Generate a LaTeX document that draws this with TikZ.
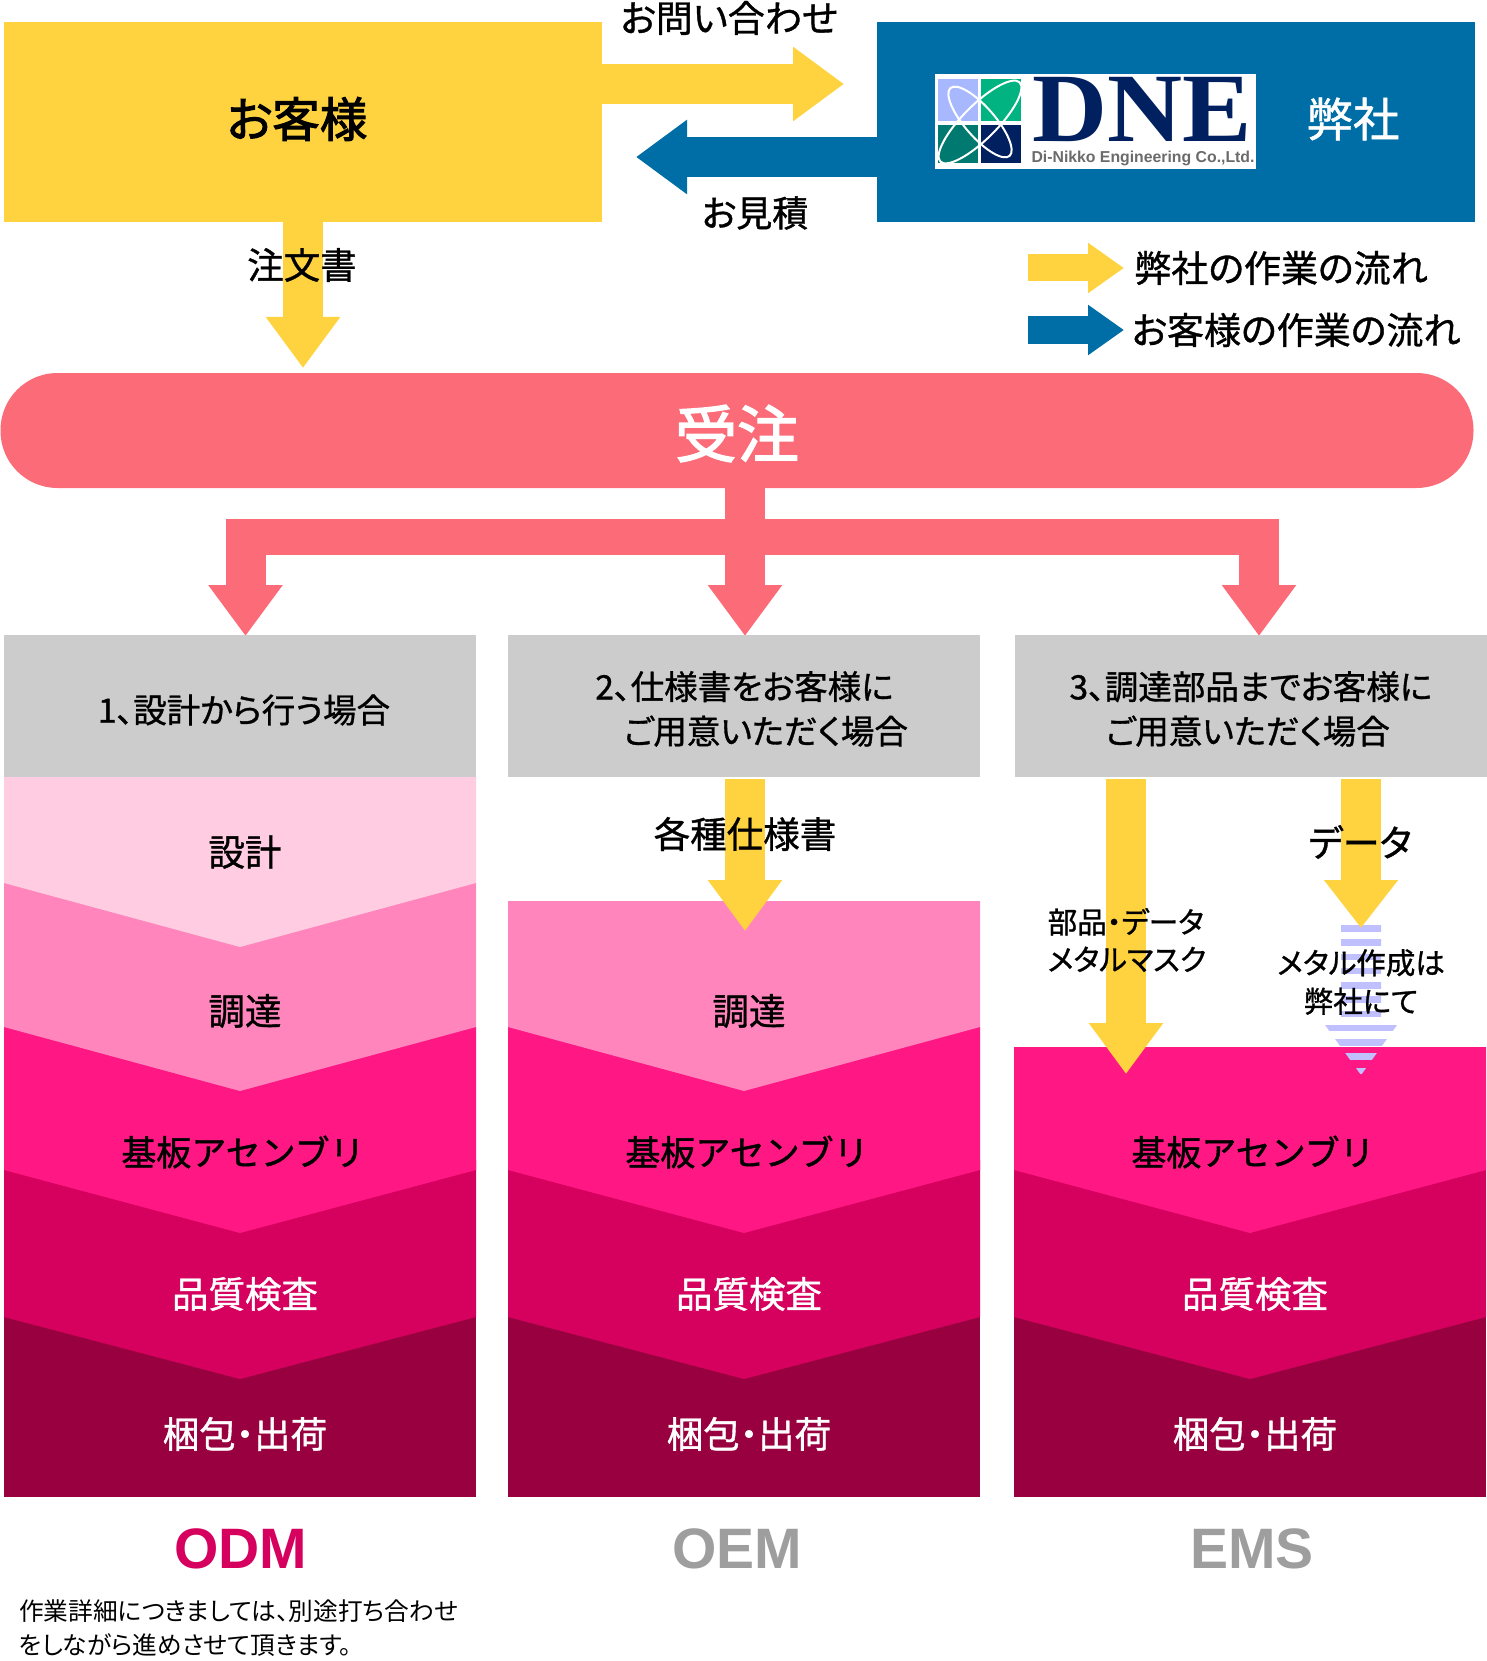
\documentclass[tikz,border=0pt]{standalone}
\usepackage{fontspec}
\usepackage{tikz}
\usetikzlibrary{arrows.meta,positioning}
\setmainfont{Noto Sans CJK JP}[RawFeature={+palt}]
\newfontfamily\medfont{Noto Sans CJK JP}[FakeBold=1,RawFeature={+palt}]
\newfontfamily\heavyfont{Noto Sans CJK JP}[FakeBold=2.2,RawFeature={+palt}]
\newfontfamily\widefont{Noto Sans CJK JP}[FakeBold=1.2]
\newfontfamily\latinfont{Liberation Sans}
\newfontfamily\logofont{Liberation Serif}
\definecolor{flowyellow}{HTML}{FFD33F}
\definecolor{flowblue}{HTML}{006EA6}
\definecolor{orderpink}{HTML}{FC6B78}
\definecolor{headgray}{HTML}{CCCCCC}
\definecolor{stepdesign}{HTML}{FFCCE1}
\definecolor{stepbuy}{HTML}{FF85BC}
\definecolor{stepasm}{HTML}{FF1784}
\definecolor{stepcheck}{HTML}{D6005F}
\definecolor{stepship}{HTML}{99003F}
\definecolor{stripe}{HTML}{C0C0FF}
\definecolor{logonavy}{HTML}{002060}
\definecolor{logolav}{HTML}{A8B8FF}
\definecolor{logogreen}{HTML}{00B380}
\definecolor{logoteal}{HTML}{007A70}
\begin{document}
\begin{tikzpicture}[
  x=1pt, y=-1pt,
  node distance=32pt,
  txt/.style={inner sep=0pt, align=center, font=\medfont\fontsize{#1}{#1}\selectfont},
  txtw/.style={txt=#1, text=white},
  txtb/.style={inner sep=0pt, align=center, font=\heavyfont\fontsize{#1}{#1}\selectfont},
  panel/.style={inner sep=0pt, minimum width=598pt, minimum height=200pt},
  headbox/.style={fill=headgray, inner sep=0pt, minimum width=472pt, minimum height=142pt, txt=33.5},
  ymove/.style={line width=40pt, draw=flowyellow, -{Triangle[length=51pt,width=71pt]}},
  bmove/.style={line width=40pt, draw=flowblue, -{Triangle[length=51pt,width=71pt]}},
  ykey/.style={line width=27pt, draw=flowyellow, -{Triangle[length=36pt,width=48pt]}},
  bkey/.style={line width=27pt, draw=flowblue, -{Triangle[length=36pt,width=48pt]}},
  pmove/.style={line width=40pt, draw=orderpink, -{Triangle[length=51pt,width=71pt]}},
  modeltxt/.style={inner sep=0pt, font=\latinfont\bfseries\fontsize{57}{57}\selectfont}
]
\useasboundingbox (0,0) rectangle (1486,1661);
\fill[white] (0,0) rectangle (1486,1661);
% top row
\node[panel, fill=flowyellow] (customer) at (303,122) {};
\node[panel, fill=flowblue, right=275pt of customer] (company) {};
\node[fill=white, inner sep=0pt, minimum width=321pt, minimum height=95pt] (logo) at (1095,121.5) {};
\fill[logolav] (938,79) rectangle (978,121);
\fill[logogreen] (981,79) rectangle (1021,121);
\fill[logoteal] (938,125) rectangle (978,163);
\fill[logonavy] (981,125) rectangle (1021,163);
\draw[white, line width=2pt] (980,122) ellipse[x radius=45, y radius=15, rotate=-49];
\draw[white, line width=2pt] (980,122) ellipse[x radius=56, y radius=17, rotate=45];
\node[anchor=base, inner sep=0pt, text height=64pt, text depth=0pt, text=logonavy, font=\logofont\bfseries\fontsize{98}{98}\selectfont] (logoname) at (1142,142) {\scalebox{1.06}[1]{DNE}};
\node[inner sep=0pt, text=black!58, font=\latinfont\bfseries\fontsize{15.8}{15.8}\selectfont] (logosub) at (1143,158) {Di-Nikko Engineering Co.,Ltd.};
\node[txtw=46.5] (companytxt) at (1353,119) {弊社};
\node[txtb=47.5] (customertxt) at (297,119) {お客様};
\coordinate (inquirytip) at (844,84);
\coordinate (estimatetip) at (636,157);
\coordinate (ordertip) at (303,368);
\draw[ymove] (customer.east |- inquirytip) -- (inquirytip);
\draw[bmove] (company.west |- estimatetip) -- (estimatetip);
\draw[ymove] (customer) -- (ordertip);
\node[txt=37] (inquiry) at (729,18) {お問い合わせ};
\node[txt=36] (estimate) at (755,213) {お見積};
\node[txt=36.5] (orderdoc) at (302,265) {注文書};
% legend
\coordinate (ykeys) at (1028,268);
\coordinate (ykeye) at (1124,268);
\coordinate (bkeys) at (1028,330);
\coordinate (bkeye) at (1124,330);
\draw[ykey] (ykeys) -- (ykeye);
\draw[bkey] (bkeys) -- (bkeye);
\node[txt=37] (ykeytxt) at (1281,268) {弊社の作業の流れ};
\node[txt=37] (bkeytxt) at (1296,330) {お客様の作業の流れ};
% order and branches
\node[fill=orderpink, rounded corners=57pt, inner sep=0pt, minimum width=1473pt, minimum height=115pt, text=white, txtb=62] (order) at (737,430.5) {\raisebox{-3pt}[\height][\depth]{受注}};
\coordinate (busl) at (226,537);
\coordinate (busr) at (1279,537);
\coordinate (busm) at (745,537);
\coordinate (drop1) at (245.5,519);
\coordinate (drop3) at (1259,519);
\coordinate (tip1) at (245.5,636);
\coordinate (tip2) at (745,636);
\coordinate (tip3) at (1259,636);
\draw[line width=36pt, draw=orderpink] (busl) -- (busr);
\draw[pmove] (order.south -| busm) -- (tip2);
\draw[pmove] (drop1) -- (tip1);
\draw[pmove] (drop3) -- (tip3);
% heads
\node[headbox] (head1) at (240,706) {\hspace*{8pt}\raisebox{-4pt}[\height][\depth]{1、設計から行う場合}};
\node[headbox, right=of head1] (head2) {\rule{0pt}{34pt}2、仕様書をお客様に\\[11pt]\hspace*{43pt}ご用意いただく場合};
\node[headbox, right=34pt of head2] (head3) {\rule{0pt}{34pt}3、調達部品までお客様に\\[11pt]ご用意いただく場合\hspace*{6pt}};
% process layers
\foreach \x in {4,508,1014} {
  \fill[stepship] (\x,1300) rectangle ++(472,197);
  \fill[stepcheck] (\x,1160) -- ++(472,0) -- ++(0,157) -- ++(-236,62) -- ++(-236,-62) -- cycle;
}
\foreach \x/\y in {4/1027,508/1027,1014/1047} {
  \fill[stepasm] (\x,\y) -- ++(472,0) -- (\x+472,1170) -- (\x+236,1233) -- (\x,1170) -- cycle;
}
\foreach \x/\y in {4/883,508/901} {
  \fill[stepbuy] (\x,\y) -- ++(472,0) -- (\x+472,1027) -- (\x+236,1091) -- (\x,1027) -- cycle;
}
\fill[stepdesign] (4,777) -- (476,777) -- (476,883) -- (240,947) -- (4,883) -- cycle;
% supplied items
\coordinate (spec) at (745,779);
\coordinate (spectip) at (745,931);
\coordinate (parts) at (1126,779);
\coordinate (partstip) at (1126,1074);
\coordinate (data) at (1361,779);
\coordinate (datatip) at (1361,928);
\begin{scope}
  \clip (1341,925) -- (1381,925) -- (1381,1025) -- (1397,1025) -- (1361,1075) -- (1325,1025) -- (1341,1025) -- cycle;
  \foreach \y in {0,...,10} {
    \fill[stripe] (1320,925+14.25*\y) rectangle ++(82,6.5);
  }
\end{scope}
\draw[ymove] (spec) -- (spectip);
\draw[ymove] (parts) -- (partstip);
\draw[ymove, -{Triangle[length=48pt,width=71pt]}] (data) -- (datatip);
\node[txt=36.5] (spectxt) at (745,834) {各種仕様書};
\node[txt=37] (datatxt) at (1360,842) {データ};
\node[txt=29.5, align=left] (partstxt) at (1127,940) {部品・データ\\[8pt]メタルマスク};
\node[txt=29.5] (maketxt) at (1361,982) {メタル作成は\\[9pt]弊社にて};
% layer labels
\node[txt=36.5] (design) at (245,852) {設計};
\foreach \c/\dx in {1/0,2/504} {
  \node[txt=36.5] (buy\c) at (245+\dx,1011) {調達};
}
\foreach \c/\dx in {1/0,2/504,3/1010} {
  \node[inner sep=0pt, font=\widefont\fontsize{35}{35}\selectfont] (asm\c) at (243+\dx,1152) {基板アセンブリ};
  \node[txtw=36.5] (check\c) at (245+\dx,1294) {品質検査};
  \node[txtw=36.5] (ship\c) at (245+\dx,1434) {梱包・出荷};
}
% model names
\node[modeltxt, text=stepcheck] (odm) at (240.5,1549) {ODM};
\node[modeltxt, text=black!38] (oem) at (737,1549) {OEM};
\node[modeltxt, text=black!38] (ems) at (1252,1549) {EMS};
\node[inner sep=0pt, align=left, anchor=west, font=\fontsize{24.7}{24.7}\selectfont] (note) at (19,1628) {作業詳細につきましては、別途打ち合わせ\\[9pt]をしながら進めさせて頂きます。};
\end{tikzpicture}
\end{document}
